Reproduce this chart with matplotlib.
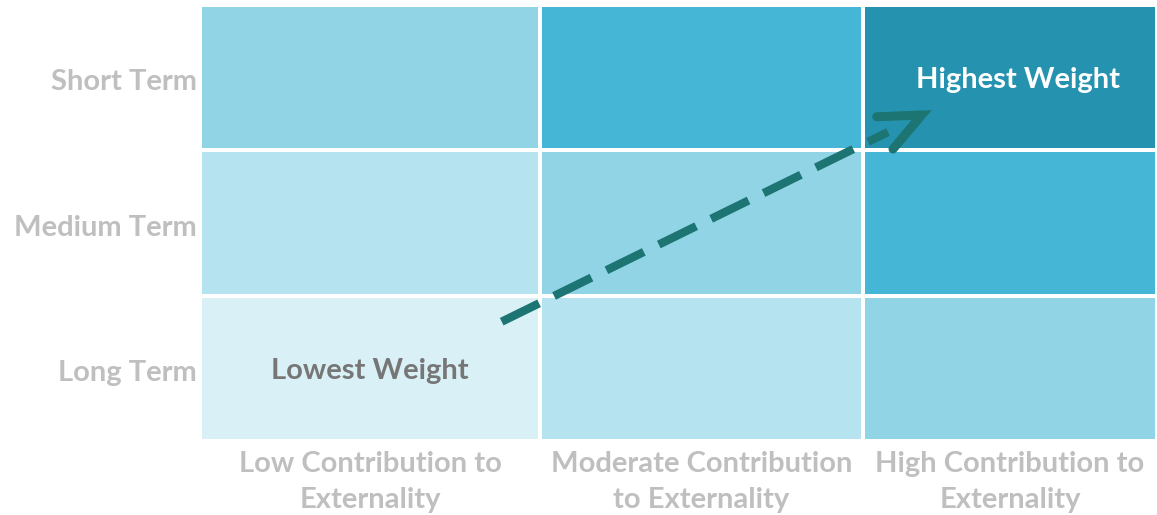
"""Weighting matrix: time horizon vs. contribution to externality."""

import matplotlib.pyplot as plt
import numpy as np
from matplotlib.colors import ListedColormap

plt.rcParams["font.family"] = ["Lato", "DejaVu Sans"]

col_labels = [
    "Low Contribution to\nExternality",
    "Moderate Contribution\nto Externality",
    "High Contribution to\nExternality",
]
row_labels = ["Long Term", "Medium Term", "Short Term"]  # bottom to top

# weight level per cell (rows bottom->top, cols left->right)
weight_long = [1, 2, 3]
weight_medium = [2, 3, 4]
weight_short = [3, 4, 5]

level_colors = ["#DAF0F7", "#B5E3EF", "#91D4E6", "#45B6D6", "#2593AF"]

# column edges in px-like units (columns are not equally wide)
col_edges = [0, 340, 663, 957]
row_edges = [0, 1, 2, 3]


def main() -> None:
    fig = plt.figure(figsize=(11.57, 5.15), dpi=100)
    ax = fig.add_axes([200 / 1157, 1 - 441 / 515, 957 / 1157, 436 / 515])

    grid = np.array([weight_long, weight_medium, weight_short])
    cmap = ListedColormap(level_colors)
    ax.pcolormesh(col_edges, row_edges, grid, cmap=cmap, vmin=0.5, vmax=5.5,
                  edgecolors="white", linewidth=1.5)
    ax.set_xlim(col_edges[0], col_edges[-1])
    ax.set_ylim(row_edges[0], row_edges[-1])

    centers_x = [(a + b) / 2 for a, b in zip(col_edges[:-1], col_edges[1:])]
    centers_y = [(a + b) / 2 for a, b in zip(row_edges[:-1], row_edges[1:])]
    ax.set_xticks(centers_x, col_labels)
    ax.set_yticks([c - 0.015 for c in centers_y], row_labels)
    ax.tick_params(length=0, labelsize=21, colors="#BFBFBF")
    ax.tick_params(axis="x", pad=7)
    ax.tick_params(axis="y", pad=2)
    for lbl in ax.get_xticklabels() + ax.get_yticklabels():
        lbl.set_fontweight("bold")
        lbl.set_linespacing(1.5)
    for s in ax.spines.values():
        s.set_visible(False)

    ax.text(centers_x[0], centers_y[0] - 0.015, "Lowest Weight", ha="center",
            va="center", fontsize=21, fontweight="bold", color="#767676")
    ax.text(centers_x[2] + 8, centers_y[2] - 0.015, "Highest Weight",
            ha="center", va="center", fontsize=21, fontweight="bold",
            color="white")

    # trend arrow: dashed shaft, solid open head
    arrow_col = "#1C7572"
    ax.plot([301.7, 688], [0.821, 2.126], color=arrow_col, lw=6,
            dashes=(5, 2), solid_capstyle="butt", dash_capstyle="butt")
    ax.plot([676.7, 721.7, 693], [2.231, 2.243, 2.009], color=arrow_col,
            lw=6.5, solid_capstyle="round", solid_joinstyle="miter")

    fig.savefig("out.png", dpi=100)


if __name__ == "__main__":
    main()
